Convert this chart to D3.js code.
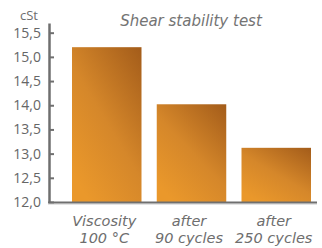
<!DOCTYPE html>
<html>
<head>
<meta charset="utf-8">
<script src="https://cdn.jsdelivr.net/npm/d3@7"></script>
<style>
  body { margin: 0; background: #fff; }
  svg { display: block; }
  .tick text { font-family: "Open Sans", sans-serif; font-size: 14px; fill: #666; }
</style>
</head>
<body>
<svg></svg>
<script>
const TITLE = "Shear stability test",
  UNIT = "cSt",
  categories = ["Viscosity\n100 °C", "after\n90 cycles", "after\n250 cycles"],
  values = [15.2, 14.02, 13.12],
  yTicks = [12, 12.5, 13, 13.5, 14, 14.5, 15, 15.5],
  width = 322,
  height = 248,
  axisColor = "#6f6f6f",
  textColor = "#6e6e6e";

var svg = d3.select("svg")
  .attr("width", width)
  .attr("height", height);

var x = d3.scaleBand().domain(categories).range([72, 311]).paddingInner(0.18).paddingOuter(0);
var y = d3.scaleLinear().domain([12, 15.7]).range([202, 23]);
var f = d3.format(".1f");

// gradient for the bars
var grad = svg.append("defs").append("linearGradient")
  .attr("id", "barGrad")
  .attr("x1", 0.25).attr("y1", 1)
  .attr("x2", 1).attr("y2", 0);
grad.append("stop").attr("offset", 0).attr("stop-color", "#ea982b");
grad.append("stop").attr("offset", 0.45).attr("stop-color", "#d5872a");
grad.append("stop").attr("offset", 1).attr("stop-color", "#a35c1a");

// title
svg.append("text")
  .attr("x", 191)
  .attr("y", 26)
  .attr("text-anchor", "middle")
  .attr("font-family", "DejaVu Sans, sans-serif")
  .attr("font-style", "italic")
  .attr("font-size", "15px")
  .attr("fill", "#747474")
  .text(TITLE);

// unit
svg.append("text")
  .attr("x", 38)
  .attr("y", 20)
  .attr("text-anchor", "end")
  .attr("font-family", "Open Sans, sans-serif")
  .attr("font-size", "13px")
  .attr("fill", textColor)
  .text(UNIT);

// bars
svg.selectAll("rect.bar")
  .data(values)
  .enter()
  .append("rect")
  .attr("class", "bar")
  .attr("x", (d, i) => x(categories[i]))
  .attr("y", d => y(d))
  .attr("width", x.bandwidth())
  .attr("height", d => y(12) - y(d))
  .attr("fill", "url(#barGrad)");

// y axis
var yAxis = d3.axisLeft(y)
  .tickValues(yTicks)
  .tickSize(-5)
  .tickSizeOuter(0)
  .tickPadding(8)
  .tickFormat(t => f(t).replace(".", ","));

var gy = svg.append("g")
  .attr("transform", "translate(49,0)")
  .call(yAxis);
gy.select(".domain").attr("stroke", axisColor).attr("stroke-width", 2.5);
gy.selectAll(".tick line").attr("stroke", axisColor).attr("stroke-width", 2);

// x axis line
svg.append("line")
  .attr("x1", 48).attr("x2", 317)
  .attr("y1", y(12) + 2.2).attr("y2", y(12) + 2.2)
  .attr("stroke", "#d8d8d8").attr("stroke-width", 1);
svg.append("line")
  .attr("x1", 48).attr("x2", 317)
  .attr("y1", y(12) + 0.5).attr("y2", y(12) + 0.5)
  .attr("stroke", axisColor).attr("stroke-width", 2.2);

// category labels
var labels = svg.selectAll("text.cat")
  .data(categories)
  .enter()
  .append("text")
  .attr("class", "cat")
  .attr("text-anchor", "middle")
  .attr("font-family", "DejaVu Sans, sans-serif")
  .attr("font-style", "italic")
  .attr("font-size", "14.5px")
  .attr("fill", textColor);

labels.each(function(d) {
  var cx = x(d) + x.bandwidth() / 2 - 2.5;
  d.split("\n").forEach((line, j) => {
    d3.select(this).append("tspan")
      .attr("x", cx)
      .attr("y", 226 + j * 17)
      .text(line);
  });
});
</script>
</body>
</html>
